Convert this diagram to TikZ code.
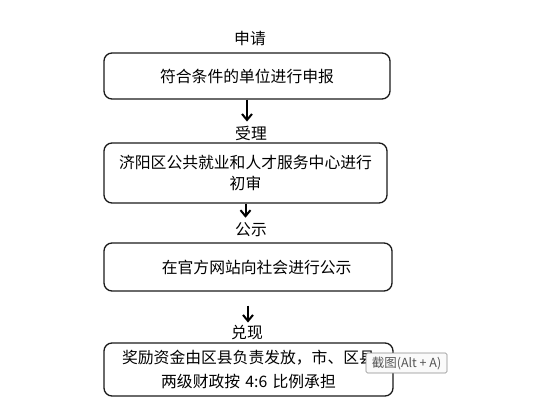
\documentclass[tikz,border=0pt]{standalone}
\usepackage{fontspec}
\setmainfont{Noto Sans CJK SC}
\usetikzlibrary{arrows.meta}
\definecolor{edge}{HTML}{1A1A1A}
\definecolor{tipgray}{HTML}{8A8A8A}
\definecolor{tiptext}{HTML}{555555}
\definecolor{tipfill}{HTML}{FAFAFA}
\tikzset{
  stepbox/.style={draw=edge, line width=1.3pt, rounded corners=8pt, align=center, inner sep=0pt},
  steplabel/.style={font=\fontsize{15.8}{18}\selectfont, inner sep=1pt},
  flow/.style={line width=2pt, -{Straight Barb[length=6pt,width=10pt,line width=2pt]}},
}

\begin{document}
\begin{tikzpicture}[x=1pt,y=-1pt]
  \useasboundingbox (0,0) rectangle (536,404);
  % stage titles
  \node[steplabel] (lbl1) at (250,38) {申请};
  \node[steplabel] (lbl2) at (251,133) {受理};
  \node[steplabel] (lbl3) at (251,230) {公示};
  \node[steplabel] (lbl4) at (247,333) {兑现};
  % boxes
  \node[stepbox, minimum width=286pt, minimum height=46pt, font=\fontsize{15.8}{20}\selectfont] (box1) at (247,76) {符合条件的单位进行申报};
  \node[stepbox, minimum width=283pt, minimum height=60pt, text width=275pt, font=\fontsize{15.8}{20.5}\selectfont] (box2) at (245.5,173) {济阳区公共就业和人才服务中心进行\\初审};
  \node[stepbox, minimum width=288pt, minimum height=48pt, font=\fontsize{15.8}{20}\selectfont] (box3) at (248,267) {\hspace*{1.1em}在官方网站向社会进行公示};
  \node[stepbox, minimum width=289pt, minimum height=53pt, text width=280pt, font=\fontsize{15.8}{23.5}\selectfont] (box4) at (248.5,369.5) {奖励资金由区县负责发放，市、区县\\两级财政按 4:6 比例承担};
  % arrows
  \draw[flow, shorten >=3pt] (box1.south) -- (box1.south |- lbl2.north);
  \draw[flow, shorten >=4pt] (box2.south) -- (box2.south |- lbl3.north);
  \draw[flow, shorten <=14pt, shorten >=2pt] (box3.south) -- (box3.south |- lbl4.north);
  % screenshot tooltip
  \node[draw=tipgray, fill=tipfill, line width=0.6pt, rounded corners=1.5pt, minimum width=81pt, minimum height=20pt, inner sep=0pt, text=tiptext, font=\fontsize{12.5}{14}\selectfont] (tip) at (406.5,363) {截图(Alt + A)};
\end{tikzpicture}
\end{document}
